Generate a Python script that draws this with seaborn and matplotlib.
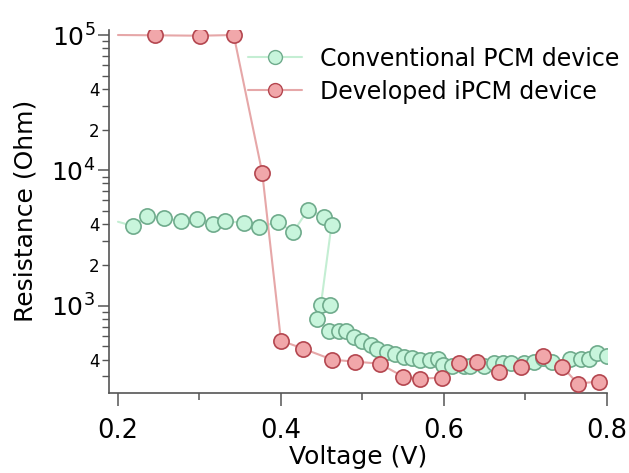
import numpy as np
import pandas as pd
import seaborn as sns
import matplotlib.pyplot as plt
from matplotlib.lines import Line2D
from matplotlib.ticker import LogLocator, FuncFormatter, MultipleLocator

# Conventional PCM device
conv_v = [0.200, 0.218, 0.236, 0.257, 0.277, 0.297, 0.316, 0.331, 0.355, 0.373,
          0.396, 0.415, 0.433, 0.453, 0.462, 0.449, 0.460, 0.444, 0.459, 0.471,
          0.480, 0.490, 0.500, 0.511, 0.518, 0.530, 0.540, 0.551, 0.561, 0.571,
          0.583, 0.593, 0.599, 0.610, 0.624, 0.632, 0.649, 0.661, 0.672, 0.682,
          0.698, 0.710, 0.722, 0.733, 0.755, 0.768, 0.778, 0.788, 0.800]
conv_r = [4170, 3890, 4620, 4480, 4190, 4390, 4010, 4240, 4070, 3810,
          4150, 3500, 5100, 4540, 3960, 1017, 1017, 798, 646, 646,
          646, 588, 546, 510, 477, 452, 442, 421, 410, 396,
          399, 403, 367, 358, 358, 357, 361, 376, 380, 378,
          378, 384, 411, 386, 404, 404, 404, 448, 423]

# Developed iPCM device
ipcm_v = [0.200, 0.245, 0.301, 0.342, 0.377, 0.400, 0.427, 0.463, 0.491, 0.521,
          0.550, 0.571, 0.598, 0.619, 0.641, 0.667, 0.695, 0.721, 0.745, 0.764,
          0.790]
ipcm_r = [100000, 99500, 98800, 100000, 9590, 552, 482, 399, 386, 373,
          299, 289, 294, 380, 386, 321, 355, 428, 355, 266,
          275]

labels = ['Conventional PCM device', 'Developed iPCM device']

conv = pd.DataFrame({'v': conv_v, 'r': conv_r})
ipcm = pd.DataFrame({'v': ipcm_v, 'r': ipcm_r})

sns.set_style('ticks')
plt.rcParams['font.family'] = ['DejaVu Sans']
plt.rcParams['text.color'] = 'black'
plt.rcParams['axes.labelcolor'] = 'black'
plt.rcParams['xtick.labelcolor'] = 'black'
plt.rcParams['ytick.labelcolor'] = 'black'

fig = plt.figure(figsize=(6.29, 4.73), dpi=100)
ax = fig.add_axes([0.1733, 0.170, 0.7917, 0.7667])

green_line, green_face, green_edge = '#c4eed3', '#c8f5dc', '#6fab8c'
red_line, red_face, red_edge = '#e6a7a8', '#f1a7aa', '#b4464f'

# lines through all points, markers from the second point on
sns.lineplot(data=conv, x='v', y='r', sort=False, estimator=None,
             color=green_line, lw=1.5, ax=ax)
sns.scatterplot(data=conv.iloc[1:], x='v', y='r', color=green_face,
                edgecolor=green_edge, linewidth=1.2, s=120, ax=ax, zorder=3)
sns.lineplot(data=ipcm, x='v', y='r', sort=False, estimator=None,
             color=red_line, lw=1.5, ax=ax)
sns.scatterplot(data=ipcm.iloc[1:], x='v', y='r', color=red_face,
                edgecolor=red_edge, linewidth=1.2, s=120, ax=ax, zorder=4)

ax.set_yscale('log')
ax.set_xlim(0.189, 0.8)
ax.set_ylim(228, 1.09e5)

ax.xaxis.set_major_locator(MultipleLocator(0.2))
ax.xaxis.set_minor_locator(MultipleLocator(0.1))
ax.xaxis.set_major_formatter(FuncFormatter(lambda v, p: f'{v:.1f}'))

ax.yaxis.set_major_locator(LogLocator(base=10, numticks=10))
ax.yaxis.set_minor_locator(LogLocator(base=10, subs=np.arange(2, 10), numticks=20))


def minor_fmt(v, pos):
    m = v / 10 ** np.floor(np.log10(v) + 1e-9)
    m = int(round(m))
    return str(m) if m in (2, 4) else ''


ax.yaxis.set_minor_formatter(FuncFormatter(minor_fmt))

sns.despine(ax=ax)
for s in ['left', 'bottom']:
    ax.spines[s].set_color('#555555')
    ax.spines[s].set_linewidth(1.2)

ax.tick_params(axis='x', which='major', length=9, width=1.1, color='#555555',
               labelsize=18.5, pad=9)
ax.tick_params(axis='x', which='minor', length=5, width=1.1, color='#555555')
ax.tick_params(axis='y', which='major', length=8, width=1.1, color='#555555',
               labelsize=18, pad=2)
ax.tick_params(axis='y', which='minor', length=5, width=1.0, color='#555555',
               labelsize=12, pad=2)

ax.set_xlabel('Voltage (V)', fontsize=18, labelpad=1)
ax.set_ylabel('Resistance (Ohm)', fontsize=18, labelpad=10)

handles = [
    Line2D([], [], color=green_line, lw=1.5, marker='o', markersize=10,
           markerfacecolor=green_face, markeredgecolor=green_edge, markeredgewidth=1.0),
    Line2D([], [], color=red_line, lw=1.5, marker='o', markersize=10,
           markerfacecolor=red_face, markeredgecolor=red_edge, markeredgewidth=1.0),
]
ax.legend(handles, labels, loc='upper left', bbox_to_anchor=(0.279, 0.954),
          frameon=False, fontsize=17, handlelength=2.3, handletextpad=0.75,
          labelspacing=0.38, borderpad=0, borderaxespad=0)

fig.savefig('out.png', dpi=100)
